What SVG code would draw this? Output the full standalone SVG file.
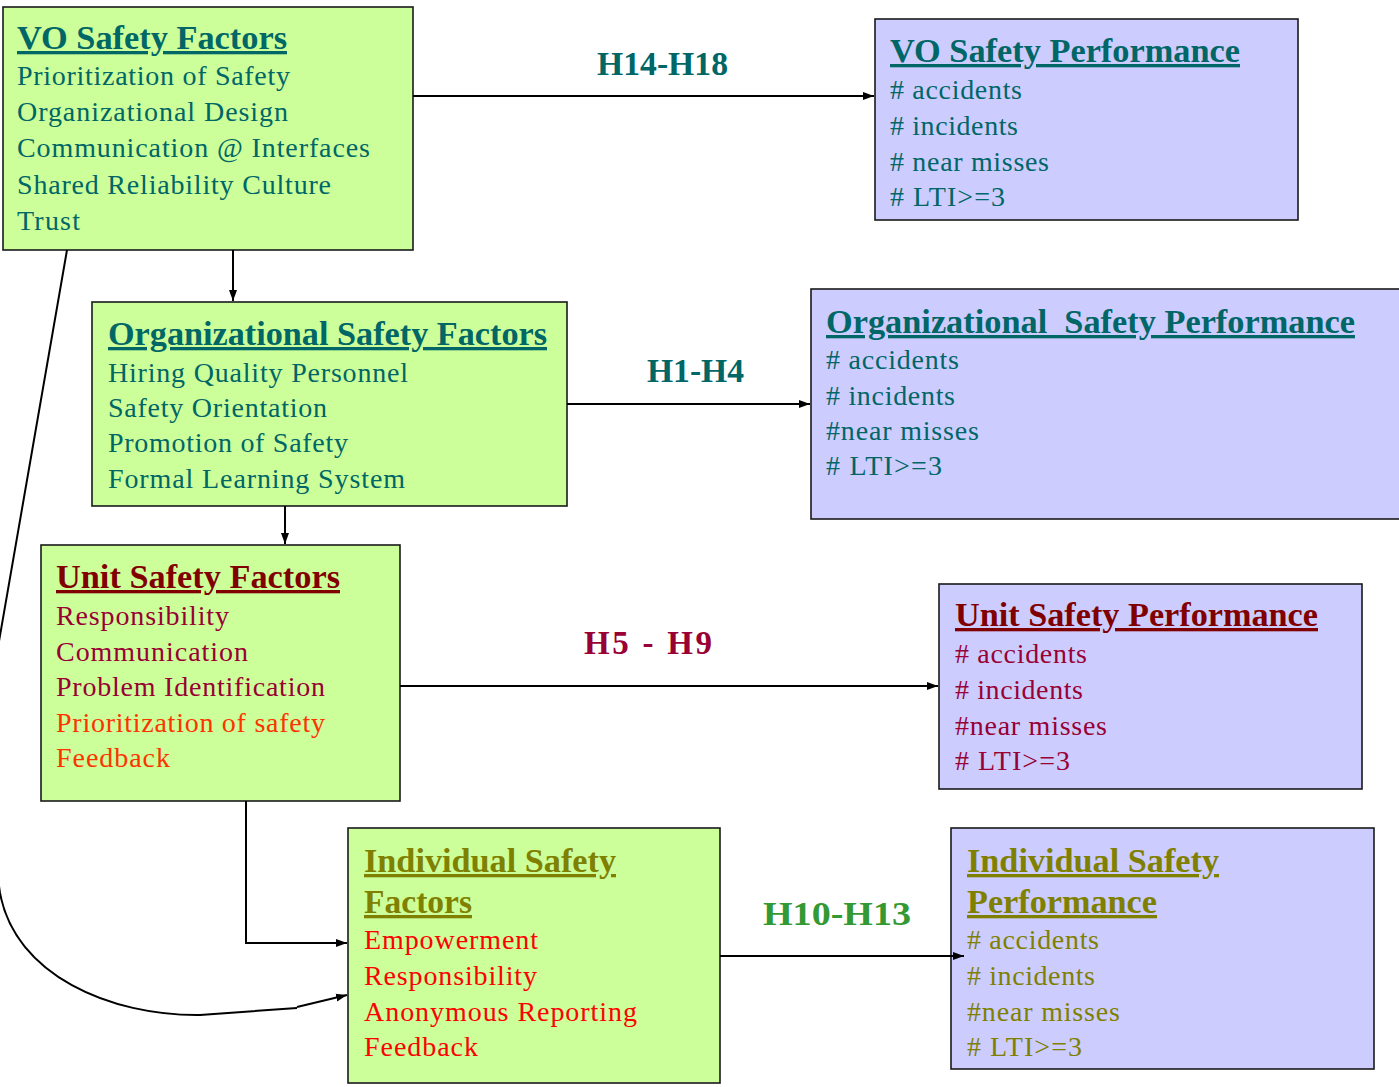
<svg xmlns="http://www.w3.org/2000/svg" width="1399" height="1087" viewBox="0 0 1399 1087">
  <style>
    .factor { fill: #CCFF99; stroke: #1a1a1a; stroke-width: 1.6; }
    .perf { fill: #CCCCFF; stroke: #1a1a1a; stroke-width: 1.6; }
    text { font-family: "Liberation Serif", "Times New Roman", serif; }
    .title { font-size: 33px; font-weight: bold; text-decoration: underline; }
    .item { font-size: 28px; }
    .hyp { font-size: 33px; font-weight: bold; }
    .teal { fill: #006666; }
    .maroon { fill: #800000; }
    .crimson { fill: #990033; }
    .orange { fill: #FF3300; }
    .olive { fill: #808000; }
    .red { fill: #FF0000; }
    .green { fill: #339933; }
    .conn { fill: none; stroke: #000; stroke-width: 2; }
  </style>
  <defs>
    <marker id="arrow" markerUnits="userSpaceOnUse" markerWidth="12" markerHeight="10" refX="11" refY="5" orient="auto">
      <path d="M0,1 L11,5 L0,9 Z" fill="#000"/>
    </marker>
  </defs>

  <rect width="1399" height="1087" fill="#fff"/>

  <!-- hypothesis labels -->
  <g id="labels">
    <text class="hyp teal" x="597" y="75" textLength="131" lengthAdjust="spacingAndGlyphs">H14-H18</text>
    <text class="hyp teal" x="647" y="382" textLength="97" lengthAdjust="spacingAndGlyphs">H1-H4</text>
    <text class="hyp crimson" x="584" y="654" textLength="128" lengthAdjust="spacing">H5 - H9</text>
    <text class="hyp green" x="763" y="925" textLength="148" lengthAdjust="spacingAndGlyphs">H10-H13</text>
  </g>

  <!-- VO safety factors -->
  <g id="vo-factors">
    <rect class="factor" x="3" y="7" width="410" height="243"/>
    <text class="title teal" x="17" y="49" textLength="270" lengthAdjust="spacingAndGlyphs">VO Safety Factors</text>
    <text class="item teal" x="17" y="85" textLength="273" lengthAdjust="spacing">Prioritization of Safety</text>
    <text class="item teal" x="17" y="121" textLength="271" lengthAdjust="spacing">Organizational Design</text>
    <text class="item teal" x="17" y="157" textLength="353" lengthAdjust="spacing">Communication @ Interfaces</text>
    <text class="item teal" x="17" y="194" textLength="314" lengthAdjust="spacing">Shared Reliability Culture</text>
    <text class="item teal" x="17" y="230" textLength="63" lengthAdjust="spacing">Trust</text>
  </g>

  <!-- VO safety performance -->
  <g id="vo-performance">
    <rect class="perf" x="875" y="19" width="423" height="201"/>
    <text class="title teal" x="890" y="62" textLength="350" lengthAdjust="spacingAndGlyphs">VO Safety Performance</text>
    <text class="item teal" x="890" y="99" textLength="132" lengthAdjust="spacing"># accidents</text>
    <text class="item teal" x="890" y="135" textLength="128" lengthAdjust="spacing"># incidents</text>
    <text class="item teal" x="890" y="171" textLength="159" lengthAdjust="spacing"># near misses</text>
    <text class="item teal" x="890" y="206" textLength="115" lengthAdjust="spacing"># LTI&gt;=3</text>
  </g>

  <!-- Organizational safety factors -->
  <g id="org-factors">
    <rect class="factor" x="92" y="302" width="475" height="204"/>
    <text class="title teal" x="108" y="345" textLength="439" lengthAdjust="spacingAndGlyphs">Organizational Safety Factors</text>
    <text class="item teal" x="108" y="382" textLength="300" lengthAdjust="spacing">Hiring Quality Personnel</text>
    <text class="item teal" x="108" y="417" textLength="219" lengthAdjust="spacing">Safety Orientation</text>
    <text class="item teal" x="108" y="452" textLength="240" lengthAdjust="spacing">Promotion of Safety</text>
    <text class="item teal" x="108" y="488" textLength="297" lengthAdjust="spacing">Formal Learning System</text>
  </g>

  <!-- Organizational safety performance -->
  <g id="org-performance">
    <rect class="perf" x="811" y="289" width="592" height="230"/>
    <text class="title teal" x="826" y="333" textLength="529" lengthAdjust="spacingAndGlyphs">Organizational&#160; Safety Performance</text>
    <text class="item teal" x="826" y="369" textLength="133" lengthAdjust="spacing"># accidents</text>
    <text class="item teal" x="826" y="405" textLength="129" lengthAdjust="spacing"># incidents</text>
    <text class="item teal" x="826" y="440" textLength="153" lengthAdjust="spacing">#near misses</text>
    <text class="item teal" x="826" y="475" textLength="116" lengthAdjust="spacing"># LTI&gt;=3</text>
  </g>

  <!-- Unit safety factors -->
  <g id="unit-factors">
    <rect class="factor" x="41" y="545" width="359" height="256"/>
    <text class="title maroon" x="56" y="588" textLength="284" lengthAdjust="spacingAndGlyphs">Unit Safety Factors</text>
    <text class="item crimson" x="56" y="625" textLength="173" lengthAdjust="spacing">Responsibility</text>
    <text class="item crimson" x="56" y="661" textLength="192" lengthAdjust="spacing">Communication</text>
    <text class="item crimson" x="56" y="696" textLength="269" lengthAdjust="spacing">Problem Identification</text>
    <text class="item orange" x="56" y="732" textLength="269" lengthAdjust="spacing">Prioritization of safety</text>
    <text class="item orange" x="56" y="767" textLength="114" lengthAdjust="spacing">Feedback</text>
  </g>

  <!-- Unit safety performance -->
  <g id="unit-performance">
    <rect class="perf" x="939" y="584" width="423" height="205"/>
    <text class="title maroon" x="955" y="626" textLength="363" lengthAdjust="spacingAndGlyphs">Unit Safety Performance</text>
    <text class="item crimson" x="955" y="663" textLength="132" lengthAdjust="spacing"># accidents</text>
    <text class="item crimson" x="955" y="699" textLength="128" lengthAdjust="spacing"># incidents</text>
    <text class="item crimson" x="955" y="735" textLength="152" lengthAdjust="spacing">#near misses</text>
    <text class="item crimson" x="955" y="770" textLength="115" lengthAdjust="spacing"># LTI&gt;=3</text>
  </g>

  <!-- Individual safety factors -->
  <g id="individual-factors">
    <rect class="factor" x="348" y="828" width="372" height="255"/>
    <text class="title olive" x="364" y="872" textLength="252" lengthAdjust="spacingAndGlyphs">Individual Safety</text>
    <text class="title olive" x="364" y="913" textLength="108" lengthAdjust="spacingAndGlyphs">Factors</text>
    <text class="item red" x="364" y="949" textLength="174" lengthAdjust="spacing">Empowerment</text>
    <text class="item red" x="364" y="985" textLength="173" lengthAdjust="spacing">Responsibility</text>
    <text class="item red" x="364" y="1021" textLength="273" lengthAdjust="spacing">Anonymous Reporting</text>
    <text class="item red" x="364" y="1056" textLength="114" lengthAdjust="spacing">Feedback</text>
  </g>

  <!-- Individual safety performance -->
  <g id="individual-performance">
    <rect class="perf" x="951" y="828" width="423" height="241"/>
    <text class="title olive" x="967" y="872" textLength="252" lengthAdjust="spacingAndGlyphs">Individual Safety</text>
    <text class="title olive" x="967" y="913" textLength="190" lengthAdjust="spacingAndGlyphs">Performance</text>
    <text class="item olive" x="967" y="949" textLength="132" lengthAdjust="spacing"># accidents</text>
    <text class="item olive" x="967" y="985" textLength="128" lengthAdjust="spacing"># incidents</text>
    <text class="item olive" x="967" y="1021" textLength="153" lengthAdjust="spacing">#near misses</text>
    <text class="item olive" x="967" y="1056" textLength="115" lengthAdjust="spacing"># LTI&gt;=3</text>
  </g>

  <!-- connectors, drawn last so arrow tips sit on top of the boxes -->
  <g id="connectors">
    <line class="conn" x1="413" y1="96" x2="874" y2="96" marker-end="url(#arrow)"/>
    <line class="conn" x1="233" y1="250" x2="233" y2="301" marker-end="url(#arrow)"/>
    <line class="conn" x1="567" y1="404" x2="810" y2="404" marker-end="url(#arrow)"/>
    <line class="conn" x1="285" y1="506" x2="285" y2="544" marker-end="url(#arrow)"/>
    <line class="conn" x1="400" y1="686" x2="938" y2="686" marker-end="url(#arrow)"/>
    <path class="conn" d="M246,801 L246,943 L347,943" marker-end="url(#arrow)"/>
    <line class="conn" x1="720" y1="956" x2="964" y2="956" marker-end="url(#arrow)"/>
    <path class="conn" d="M67,250 L-6,670 C-15,730 -8,840 0,893 C15,975 110,1016 200,1015 L297,1008"/>
    <path class="conn" d="M297,1007 L347,995" marker-end="url(#arrow)"/>
  </g>
</svg>
